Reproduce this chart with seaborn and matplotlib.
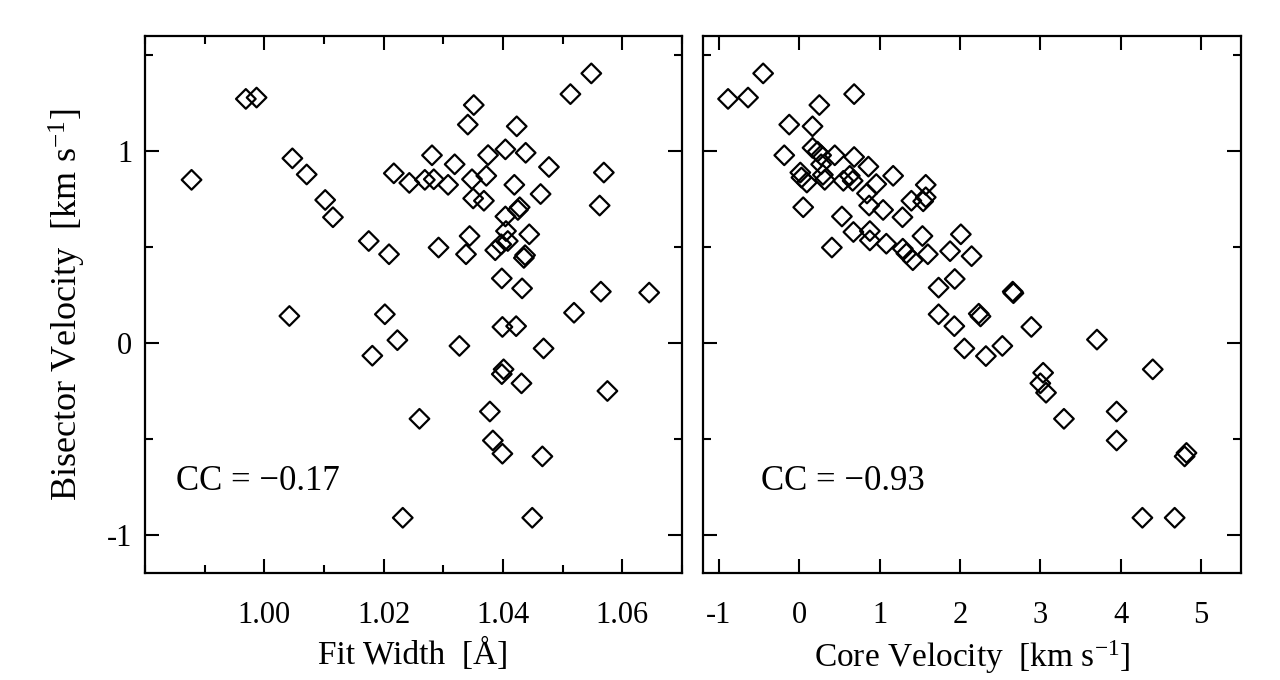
import matplotlib
matplotlib.use("Agg")
from matplotlib import pyplot as plt
from matplotlib.ticker import MultipleLocator, FixedLocator, FormatStrFormatter, NullLocator
import seaborn as sns
import pandas as pd

# left panel: fit width [A] vs bisector velocity [km/s]
fit_width = [0.9878, 0.9969, 0.9987, 1.0047, 1.0071, 1.0102, 1.0115, 1.0175, 1.0209, 1.0217,
             1.0243, 1.0269, 1.0281, 1.0284, 1.0292, 1.0308, 1.0319, 1.0338, 1.0344, 1.0341,
             1.0351, 1.0348, 1.0350, 1.0368, 1.0372, 1.0375, 1.0387, 1.0397, 1.0398, 1.0404,
             1.0404, 1.0405, 1.0408, 1.0419, 1.0423, 1.0425, 1.0428, 1.0432, 1.0435, 1.0437,
             1.0438, 1.0444, 1.0463, 1.0477, 1.0513, 1.0548, 1.0562, 1.0564, 1.0569, 1.0645,
             1.0042, 1.0202, 1.0519, 1.0399, 1.0422, 1.0223, 1.0181, 1.0327, 1.0468, 1.0401,
             1.0398, 1.0431, 1.0575, 1.0260, 1.0378, 1.0383, 1.0399, 1.0466, 1.0232, 1.0449]
bisector_fw = [0.85, 1.272, 1.279, 0.962, 0.878, 0.745, 0.655, 0.531, 0.462, 0.884,
               0.834, 0.85, 0.978, 0.853, 0.497, 0.824, 0.931, 0.462, 0.557, 1.138,
               1.240, 0.853, 0.753, 0.741, 0.871, 0.979, 0.483, 0.514, 0.336, 0.659,
               1.009, 0.583, 0.531, 0.824, 1.129, 0.693, 0.707, 0.284, 0.443, 0.457,
               0.991, 0.566, 0.776, 0.917, 1.297, 1.405, 0.716, 0.267, 0.888, 0.262,
               0.140, 0.149, 0.157, 0.083, 0.087, 0.014, -0.067, -0.016, -0.029, -0.138,
               -0.163, -0.211, -0.251, -0.396, -0.358, -0.509, -0.578, -0.592, -0.912, -0.912]

# right panel: core velocity [km/s] vs bisector velocity [km/s]
core_velocity = [-0.888, -0.639, -0.451, 0.249, 0.682, -0.126, 0.164, -0.188, 0.164, 0.227,
                 0.271, 0.441, 0.682, 0.860, 0.271, 0.012, 0.026, 0.293, 0.093, 0.316,
                 0.548, 0.628, 0.664, 0.958, 1.168, 0.842, 1.574, 1.574, 1.542, 1.395,
                 0.048, 0.869, 1.043, 1.284, 0.530, 0.673, 0.878, 0.878, 1.083, 1.533,
                 2.011, 0.405, 1.288, 1.333, 1.413, 1.600, 1.877, 2.145, 1.935, 1.734,
                 2.657, 2.666, 1.734, 2.234, 2.256, 1.930, 2.889, 2.055, 2.323, 2.528,
                 3.706, 3.036, 3.001, 3.072, 3.295, 4.401, 3.951, 3.951, 4.821, 4.798,
                 4.272, 4.674]
bisector_cv = [1.272, 1.279, 1.405, 1.240, 1.297, 1.138, 1.129, 0.978, 1.017, 0.997,
               0.978, 0.978, 0.969, 0.919, 0.931, 0.888, 0.862, 0.876, 0.836, 0.85,
               0.845, 0.871, 0.845, 0.828, 0.871, 0.779, 0.824, 0.759, 0.738, 0.741,
               0.707, 0.716, 0.693, 0.655, 0.659, 0.578, 0.583, 0.534, 0.517, 0.557,
               0.566, 0.497, 0.491, 0.466, 0.431, 0.462, 0.478, 0.452, 0.333, 0.288,
               0.267, 0.259, 0.149, 0.152, 0.138, 0.087, 0.083, -0.029, -0.069, -0.016,
               0.017, -0.156, -0.211, -0.260, -0.396, -0.138, -0.358, -0.509, -0.574, -0.592,
               -0.912, -0.912]

fw_ticks = [1.00, 1.02, 1.04, 1.06]
cc_left = "CC = \u22120.17"
cc_right = "CC = \u22120.93"

left_df = pd.DataFrame({"fit_width": fit_width, "bisector": bisector_fw})
right_df = pd.DataFrame({"core": core_velocity, "bisector": bisector_cv})

sns.set_style("ticks")
plt.rcParams["font.family"] = ["Liberation Serif", "DejaVu Serif"]
plt.rcParams["mathtext.fontset"] = "custom"
plt.rcParams["mathtext.rm"] = "Liberation Serif"
plt.rcParams["mathtext.it"] = "Liberation Serif:italic"
plt.rcParams["axes.unicode_minus"] = False
plt.rcParams["axes.linewidth"] = 1.6
plt.rcParams["axes.edgecolor"] = "black"
plt.rcParams["text.color"] = "black"
plt.rcParams["axes.labelcolor"] = "black"
plt.rcParams["xtick.color"] = "black"
plt.rcParams["ytick.color"] = "black"

fig = plt.figure(figsize=(12.8, 6.8), dpi=100)
ax1 = fig.add_axes([145 / 1280, 107 / 680, 537 / 1280, 537 / 680])
ax2 = fig.add_axes([703 / 1280, 107 / 680, 538 / 1280, 537 / 680])

marker_kw = dict(marker="D", s=100, facecolors="none", edgecolor="black", linewidth=1.6)
sns.scatterplot(data=left_df, x="fit_width", y="bisector", ax=ax1, **marker_kw)
sns.scatterplot(data=right_df, x="core", y="bisector", ax=ax2, **marker_kw)

ax1.set_xlim(0.98, 1.07)
ax1.xaxis.set_major_locator(FixedLocator(fw_ticks))
ax1.xaxis.set_minor_locator(MultipleLocator(0.01))
ax1.xaxis.set_major_formatter(FormatStrFormatter("%.2f"))

ax2.set_xlim(-1.2, 5.5)
ax2.xaxis.set_major_locator(MultipleLocator(1))
ax2.xaxis.set_minor_locator(NullLocator())

for ax in (ax1, ax2):
    ax.set_ylim(-1.2, 1.6)
    ax.yaxis.set_major_locator(MultipleLocator(1))
    ax.yaxis.set_minor_locator(MultipleLocator(0.5))
    ax.tick_params(which="both", direction="in", top=True, right=True,
                   width=1.5, colors="black", labelsize=22)
    ax.tick_params(which="major", length=10)
    ax.tick_params(which="minor", length=6)
    ax.tick_params(axis="x", pad=20)
    ax.tick_params(axis="y", pad=9)

ax2.tick_params(axis="y", labelleft=False)

ax1.set_xlabel("Fit Width  [\u00c5]", fontsize=24, labelpad=6)
ax2.set_xlabel(r"Core Velocity  [km s$^{-1}$]", fontsize=24, labelpad=6)
ax1.set_ylabel(r"Bisector Velocity  [km s$^{-1}$]", fontsize=26, labelpad=14)
ax2.set_ylabel("")

ax1.text(0.058, 0.17, cc_left, transform=ax1.transAxes, fontsize=25, va="center")
ax2.text(0.107, 0.17, cc_right, transform=ax2.transAxes, fontsize=25, va="center")

plt.savefig("out.png", dpi=100)
